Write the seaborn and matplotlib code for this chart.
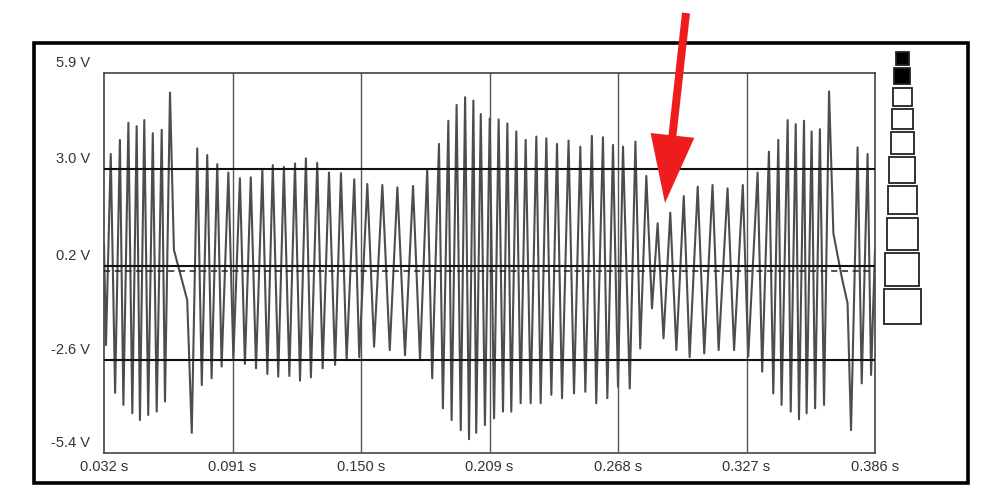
import numpy as np
import pandas as pd
import matplotlib
matplotlib.use("Agg")
import matplotlib.pyplot as plt
import seaborn as sns
from matplotlib.patches import Rectangle, FancyArrow

# DATA (peaks / troughs)

time_s = [
    0.0320,
    0.0329, 0.0351, 0.0371, 0.0393, 0.0409, 0.0432, 0.0450, 0.0470,
    0.0485, 0.0505, 0.0523, 0.0544, 0.0562, 0.0585, 0.0600, 0.0623,
    0.0641, 0.0702,
    0.0723, 0.0748, 0.0769, 0.0794, 0.0814, 0.0840, 0.0860,
    0.0891, 0.0914, 0.0944, 0.0967, 0.0994, 0.1018, 0.1047, 0.1070, 0.1095, 0.1120,
    0.1146, 0.1171, 0.1197, 0.1220, 0.1247, 0.1270, 0.1299, 0.1324, 0.1353, 0.1381,
    0.1408, 0.1434, 0.1469, 0.1492, 0.1529, 0.1560, 0.1598, 0.1632, 0.1667, 0.1702,
    0.1739, 0.1771, 0.1804, 0.1827, 0.1858, 0.1876, 0.1901, 0.1916, 0.1939, 0.1958,
    0.1978, 0.1996, 0.2016, 0.2029, 0.2050, 0.2069, 0.2091, 0.2111, 0.2132, 0.2152,
    0.2172, 0.2190, 0.2213, 0.2233, 0.2256, 0.2279, 0.2305, 0.2325, 0.2351, 0.2374,
    0.2400, 0.2423, 0.2453, 0.2478, 0.2507, 0.2530, 0.2560, 0.2580, 0.2611, 0.2631,
    0.2657, 0.2680, 0.2703, 0.2734, 0.2760, 0.2782, 0.2810, 0.2836, 0.2862, 0.2889,
    0.2920, 0.2948, 0.2982, 0.3009, 0.3046, 0.3076, 0.3114, 0.3142, 0.3183, 0.3213,
    0.3253, 0.3278, 0.3321, 0.3342, 0.3373, 0.3393, 0.3416, 0.3431, 0.3459, 0.3473,
    0.3496, 0.3511, 0.3534, 0.3546, 0.3569, 0.3585, 0.3607, 0.3626, 0.3649,
    0.3669, 0.3707, 0.3734,
    0.3750, 0.3780, 0.3799, 0.3826, 0.3842, 0.3860,
]

volts = [
    0.84,
    -2.19, 3.49, -3.61, 3.91, -3.97, 4.42, -4.22, 4.32,
    -4.42, 4.50, -4.27, 4.11, -4.17, 4.21, -3.87, 5.32,
    0.64, -0.85,
    -4.80, 3.66, -3.38, 3.46, -3.18, 3.19, -2.83,
    2.94, -2.58, 2.77, -2.75, 2.80, -2.88, 3.02, -3.05, 3.16, -3.13,
    3.11, -3.11, 3.21, -3.25, 3.36, -3.15, 3.23, -2.88, 2.94, -2.78,
    2.92, -2.63, 2.74, -2.55, 2.60, -2.24, 2.57, -2.34, 2.50, -2.49,
    2.54, -2.63, 3.04, -3.18, 3.79, -4.07, 4.48, -4.42, 4.95, -4.72,
    5.18, -4.99, 5.08, -4.80, 4.68, -4.57, 4.55, -4.37, 4.52, -4.17,
    4.40, -4.17, 4.16, -3.92, 3.91, -3.92, 4.01, -3.92, 3.96, -3.67,
    3.79, -3.77, 3.89, -3.63, 3.71, -3.58, 4.03, -3.92, 3.99, -3.77,
    3.76, -3.43, 3.71, -3.48, 3.86, -2.29, 2.84, -1.10, 1.43, -1.99,
    1.75, -2.34, 2.24, -2.55, 2.52, -2.44, 2.57, -2.34, 2.47, -2.34,
    2.57, -2.53, 2.94, -2.98, 3.56, -3.63, 3.91, -3.97, 4.50, -4.17,
    4.38, -4.40, 4.48, -4.22, 4.16, -4.07, 4.23, -3.97, 5.35,
    1.13, -0.16, -0.95,
    -4.72, 3.69, -3.33, 3.49, -3.08, 0.64,
]

x_ticks = [0.032, 0.091, 0.150, 0.209, 0.268, 0.327, 0.386]
x_labels = ["0.032 s", "0.091 s", "0.150 s", "0.209 s", "0.268 s", "0.327 s", "0.386 s"]

y_levels = [5.9, 3.05, 0.17, -2.62, -5.4]
y_labels = ["5.9 V", "3.0 V", "0.2 V", "-2.6 V", "-5.4 V"]

trace = pd.DataFrame({"time": time_s, "volts": volts})

# PLOT

sns.set_theme(style="white")
plt.rcParams["font.family"] = ["Liberation Sans", "DejaVu Sans"]

fig = plt.figure(figsize=(10, 4.99), dpi=100)
ax = fig.add_axes([0.104, 1 - 453 / 499, 0.771, 380 / 499])

sns.lineplot(data=trace, x="time", y="volts", sort=False, estimator=None,
             color="#4d4d4d", linewidth=1.5, ax=ax, zorder=3)

ax.set_xlim(x_ticks[0], x_ticks[-1])
ax.set_ylim(y_levels[-1], y_levels[0])

# grid
for xv in x_ticks[1:-1]:
    ax.axvline(xv, color="#555555", linewidth=1.0, zorder=1)
for yv in y_levels[1:-1]:
    ax.axhline(yv, color="#111111", linewidth=1.5, zorder=4)
ax.axhline(0, color="#222222", linewidth=1.1, linestyle=(0, (4, 3)), zorder=4)

ax.set_xticks(x_ticks)
ax.set_xticklabels(x_labels, fontsize=10.5, color="#333333")
ax.set_yticks([])
ax.tick_params(axis="x", length=0, pad=5)
ax.set_xlabel("")
ax.set_ylabel("")

for yv, lab in zip(y_levels, y_labels):
    ax.annotate(lab, xy=(0, yv), xycoords=("axes fraction", "data"),
                xytext=(-14, 10), textcoords="offset pixels",
                ha="right", va="center", fontsize=10.5, color="#333333")

for sp in ax.spines.values():
    sp.set_color("#444444")
    sp.set_linewidth(1.2)

# overlay in pixel units for frame, zoom boxes and arrow
ov = fig.add_axes([0, 0, 1, 1], zorder=10)
ov.set_xlim(0, 1000)
ov.set_ylim(499, 0)
ov.patch.set_alpha(0)
ov.axis("off")

ov.add_patch(Rectangle((34, 43), 934, 440, fill=False, edgecolor="black", linewidth=2.6))

boxes = [(896, 52, 909, 65), (894, 68, 910, 84), (893, 88, 912, 106),
         (892, 109, 913, 129), (891, 132, 914, 154), (889, 157, 915, 183),
         (888, 186, 917, 214), (887, 218, 918, 250), (885, 253, 919, 286),
         (884, 289, 921, 324)]
for i, (x0, y0, x1, y1) in enumerate(boxes):
    filled = i < 2
    ov.add_patch(Rectangle((x0, y0), x1 - x0, y1 - y0,
                           facecolor="black" if filled else "none",
                           edgecolor="#222222", linewidth=1.3))

ov.add_patch(FancyArrow(686, 13, -21, 190, width=8, head_width=44, head_length=68,
                        length_includes_head=True, color="#ee1c1c", linewidth=0))

fig.savefig("out.png", dpi=100, facecolor="white")
